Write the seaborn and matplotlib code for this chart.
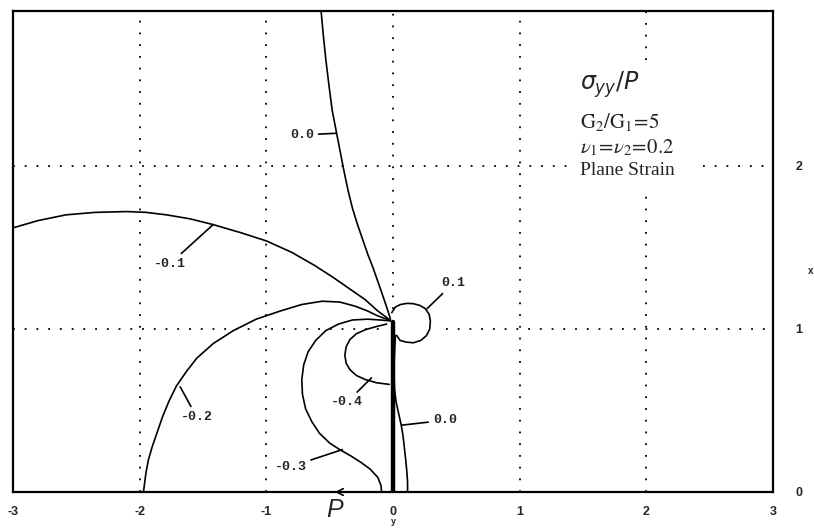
import matplotlib
matplotlib.use("Agg")
import matplotlib.pyplot as plt
import pandas as pd
import seaborn as sns

# ---- contour traces of sigma_yy / P (x: horizontal, y: vertical) ----
c00a_x = [-0.57, -0.55, -0.53, -0.505, -0.48, -0.44, -0.39, -0.355, -0.32, -0.28, -0.24,
          -0.20, -0.16, -0.11, -0.07, -0.04, -0.02]
c00a_y = [2.97, 2.80, 2.65, 2.49, 2.34, 2.18, 1.98, 1.85, 1.74, 1.64, 1.55,
          1.46, 1.38, 1.27, 1.18, 1.11, 1.06]

c01m_x = [-3.0, -2.8, -2.58, -2.35, -2.10, -1.95, -1.79, -1.60, -1.42, -1.20, -1.00,
          -0.80, -0.62, -0.48, -0.35, -0.22, -0.12, -0.05, -0.02]
c01m_y = [1.62, 1.665, 1.70, 1.715, 1.72, 1.715, 1.70, 1.675, 1.64, 1.59, 1.54,
          1.47, 1.39, 1.32, 1.25, 1.18, 1.11, 1.07, 1.05]

c02m_x = [-1.97, -1.96, -1.95, -1.93, -1.90, -1.86, -1.82, -1.77, -1.71, -1.63, -1.55,
          -1.42, -1.26, -1.08, -0.89, -0.72, -0.56, -0.42, -0.30, -0.20, -0.12, -0.05, -0.02]
c02m_y = [0.00, 0.06, 0.12, 0.20, 0.28, 0.37, 0.46, 0.555, 0.65, 0.74, 0.82,
          0.91, 0.99, 1.06, 1.11, 1.15, 1.17, 1.165, 1.14, 1.11, 1.08, 1.06, 1.05]

c03m_x = [-0.09, -0.095, -0.12, -0.18, -0.25, -0.33, -0.42, -0.50, -0.58, -0.64, -0.69,
          -0.715, -0.72, -0.705, -0.67, -0.61, -0.53, -0.43, -0.32, -0.20, -0.10, -0.03]
c03m_y = [0.00, 0.04, 0.09, 0.14, 0.18, 0.22, 0.26, 0.30, 0.36, 0.43, 0.51,
          0.60, 0.69, 0.78, 0.86, 0.93, 0.99, 1.03, 1.055, 1.06, 1.055, 1.05]

c04m_x = [-0.03, -0.13, -0.22, -0.29, -0.34, -0.37, -0.38, -0.37, -0.34, -0.29, -0.22,
          -0.13, -0.05]
c04m_y = [0.66, 0.67, 0.69, 0.715, 0.75, 0.79, 0.84, 0.89, 0.935, 0.97, 0.995,
          1.015, 1.03]

c01p_x = [-0.01, 0.02, 0.06, 0.11, 0.16, 0.21, 0.255, 0.285, 0.295, 0.29, 0.265,
          0.22, 0.16, 0.10, 0.055, 0.03]
c01p_y = [1.10, 1.135, 1.15, 1.157, 1.155, 1.145, 1.125, 1.09, 1.05, 1.00, 0.96,
          0.93, 0.915, 0.92, 0.93, 0.96]

c00b_x = [0.02, 0.015, 0.01, 0.008, 0.012, 0.025, 0.045, 0.065, 0.08, 0.09, 0.10,
          0.11, 0.115, 0.115]
c00b_y = [0.96, 0.90, 0.82, 0.72, 0.63, 0.55, 0.48, 0.41, 0.34, 0.27, 0.20,
          0.12, 0.06, 0.00]

# crack along x = 0
crack_x = [0.0, 0.0]
crack_y = [0.0, 1.04]

# contour labels: text, label position, point on the curve
lab_text = ["0.0", "-0.1", "-0.2", "-0.3", "-0.4", "0.1", "0.0"]
lab_x = [-0.72, -1.76, -1.55, -0.81, -0.365, 0.475, 0.41]
lab_y = [2.19, 1.40, 0.46, 0.155, 0.55, 1.28, 0.44]
tip_x = [-0.45, -1.42, -1.68, -0.40, -0.17, 0.27, 0.07]
tip_y = [2.20, 1.64, 0.645, 0.26, 0.70, 1.125, 0.41]

x_ticks = [-3, -2, -1, 0, 1, 2, 3]
x_tick_labels = ["-3", "-2", "-1", "0", "1", "2", "3"]
y_ticks = [0, 1, 2]
y_tick_labels = ["0", "1", "2"]

curves = [
    ("0.0 upper", c00a_x, c00a_y),
    ("-0.1", c01m_x, c01m_y),
    ("-0.2", c02m_x, c02m_y),
    ("-0.3", c03m_x, c03m_y),
    ("-0.4", c04m_x, c04m_y),
    ("0.1", c01p_x, c01p_y),
    ("0.0 lower", c00b_x, c00b_y),
]
frames = []
for name, xs, ys in curves:
    frames.append(pd.DataFrame({"curve": name, "order": range(len(xs)), "x": xs, "y": ys}))
df = pd.concat(frames, ignore_index=True)
crack = pd.DataFrame({"curve": "crack", "x": crack_x, "y": crack_y})

sns.set_style("white")
plt.rcParams["font.family"] = ["Liberation Sans", "DejaVu Sans"]
plt.rcParams["mathtext.fontset"] = "stix"

fig = plt.figure(figsize=(8.14, 5.29), dpi=100)
ax = fig.add_axes([13 / 814, 1 - 492 / 529, 760 / 814, 481 / 529])
ax.set_xlim(-3, 3)
ax.set_ylim(0, 2.95)

# dotted grid, broken where annotations sit
dot = dict(color="black", lw=1.3, linestyle=(0, (1, 5.5)), zorder=0.5)
ax.vlines([-2, -1, 1], 0, 2.95, **dot)
ax.vlines(0, 1.12, 2.95, **dot)
ax.vlines(2, 0, 1.87, **dot)
ax.vlines(2, 2.65, 2.95, **dot)
ax.hlines(1, -3, -0.05, **dot)
ax.hlines(1, 0.42, 3, **dot)
ax.hlines(2, -3, 1.44, **dot)
ax.hlines(2, 2.45, 3, **dot)

sns.lineplot(data=df, x="x", y="y", units="curve", estimator=None, sort=False,
             color="black", lw=1.2, ax=ax, legend=False)
sns.lineplot(data=crack, x="x", y="y", estimator=None, sort=False,
             color="black", lw=3.2, ax=ax, legend=False)

for t, lx, ly, tx, ty in zip(lab_text, lab_x, lab_y, tip_x, tip_y):
    ax.annotate(t, xy=(tx, ty), xytext=(lx, ly), ha="center", va="center",
                fontsize=9.5, fontweight="bold", family="Liberation Mono",
                arrowprops=dict(arrowstyle="-", lw=1.2, color="black",
                                shrinkA=1, shrinkB=0))

# load arrow and its symbol below the interface
ax.annotate("", xy=(-0.46, 0), xytext=(-0.12, 0), annotation_clip=False,
            arrowprops=dict(arrowstyle="->", lw=1.2, color="black",
                            shrinkA=0, shrinkB=0, mutation_scale=12))
ax.text(-0.46, -0.11, "P", fontsize=18, style="italic", ha="center", va="center",
        family="Liberation Sans", clip_on=False)

# parameter block
ax.text(1.48, 2.50, r"$\sigma_{yy}/\mathit{P}$", fontsize=17, ha="left", va="center",
        math_fontfamily="dejavusans")
ax.text(1.48, 2.27, r"$\mathrm{G_2/G_1}\!=\!\mathrm{5}$", fontsize=15, ha="left", va="center")
ax.text(1.48, 2.11, r"$\nu_1\!=\!\nu_2\!=\!\mathrm{0.2}$", fontsize=15, ha="left", va="center")
ax.text(1.48, 1.97, "Plane Strain", fontsize=14, ha="left", va="center",
        family="Liberation Serif")

ax.set_xticks(x_ticks)
ax.set_xticklabels(x_tick_labels)
ax.set_yticks(y_ticks)
ax.set_yticklabels(y_tick_labels)
ax.yaxis.tick_right()
ax.tick_params(axis="both", length=0, labelsize=9)
ax.tick_params(axis="x", pad=10)
ax.tick_params(axis="y", pad=16)
for lbl in ax.get_xticklabels() + ax.get_yticklabels():
    lbl.set_fontweight("bold")

ax.set_xlabel("y", fontsize=6.5, fontweight="bold")
ax.xaxis.set_label_coords(0.5, -0.052)
ax.yaxis.set_label_position("right")
ax.set_ylabel("x", fontsize=7, fontweight="bold", rotation=0)
ax.yaxis.set_label_coords(1.05, 0.47)

for s in ax.spines.values():
    s.set_visible(True)
    s.set_color("black")
    s.set_linewidth(1.6)

fig.savefig("out.png", dpi=100, facecolor="white")
